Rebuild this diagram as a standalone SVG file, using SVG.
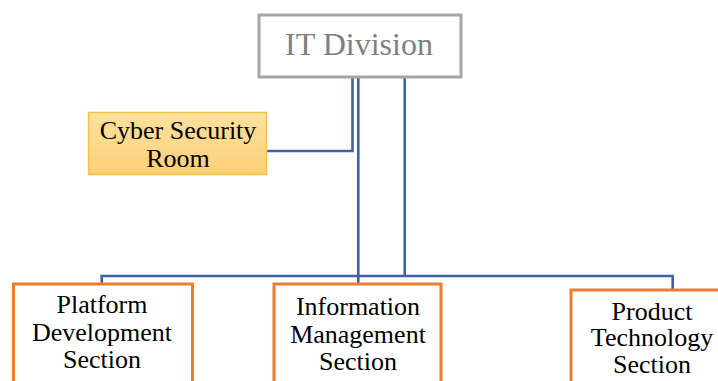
<svg xmlns="http://www.w3.org/2000/svg" width="718" height="381" viewBox="0 0 718 381">
  <defs>
    <linearGradient id="cyberFill" x1="0" y1="0" x2="0" y2="1">
      <stop offset="0" stop-color="#fde1a0"/>
      <stop offset="1" stop-color="#fcd077"/>
    </linearGradient>
  </defs>
  <style>
    .link { fill: none; stroke: #3e62a8; stroke-width: 2.6; }
    .section { fill: #ffffff; stroke: #ed7d31; stroke-width: 3; }
    .label { font-family: 'Liberation Serif', 'Times New Roman', serif; font-size: 26px; fill: #000000; text-anchor: middle; }
    .head { font-family: 'Liberation Serif', 'Times New Roman', serif; font-size: 32px; fill: #7f7f7f; text-anchor: middle; }
  </style>
  <rect width="718" height="381" fill="#ffffff"/>

  <!-- blue elbow connectors between the division and its units -->
  <g id="connectors">
    <polyline class="link" points="267,151 352.5,151 352.5,77"/>
    <line class="link" x1="358.3" y1="77" x2="358.3" y2="283"/>
    <line class="link" x1="404.7" y1="77" x2="404.7" y2="276"/>
    <polyline class="link" points="101.7,283 101.7,276 672.7,276 672.7,289"/>
  </g>

  <g id="it-division">
    <rect x="259" y="15" width="202" height="62" fill="#ffffff" stroke="#a6a6a6" stroke-width="3"/>
    <text class="head" x="359" y="55">IT Division</text>
  </g>

  <g id="cyber-security-room">
    <rect x="88.5" y="112.5" width="178" height="62" fill="url(#cyberFill)" stroke="#f6c243" stroke-width="1.5"/>
    <text class="label" x="178" y="139">Cyber Security</text>
    <text class="label" x="178" y="167">Room</text>
  </g>

  <g id="platform-development">
    <rect class="section" x="13.5" y="284" width="179" height="110"/>
    <text class="label" x="102" y="313">Platform</text>
    <text class="label" x="102" y="341">Development</text>
    <text class="label" x="102" y="368">Section</text>
  </g>

  <g id="information-management">
    <rect class="section" x="274" y="284" width="167" height="110"/>
    <text class="label" x="358" y="315">Information</text>
    <text class="label" x="358" y="343">Management</text>
    <text class="label" x="358" y="370">Section</text>
  </g>

  <g id="product-technology">
    <rect class="section" x="571" y="290" width="160" height="110"/>
    <text class="label" x="652" y="320">Product</text>
    <text class="label" x="652" y="346">Technology</text>
    <text class="label" x="652" y="373">Section</text>
  </g>
</svg>
